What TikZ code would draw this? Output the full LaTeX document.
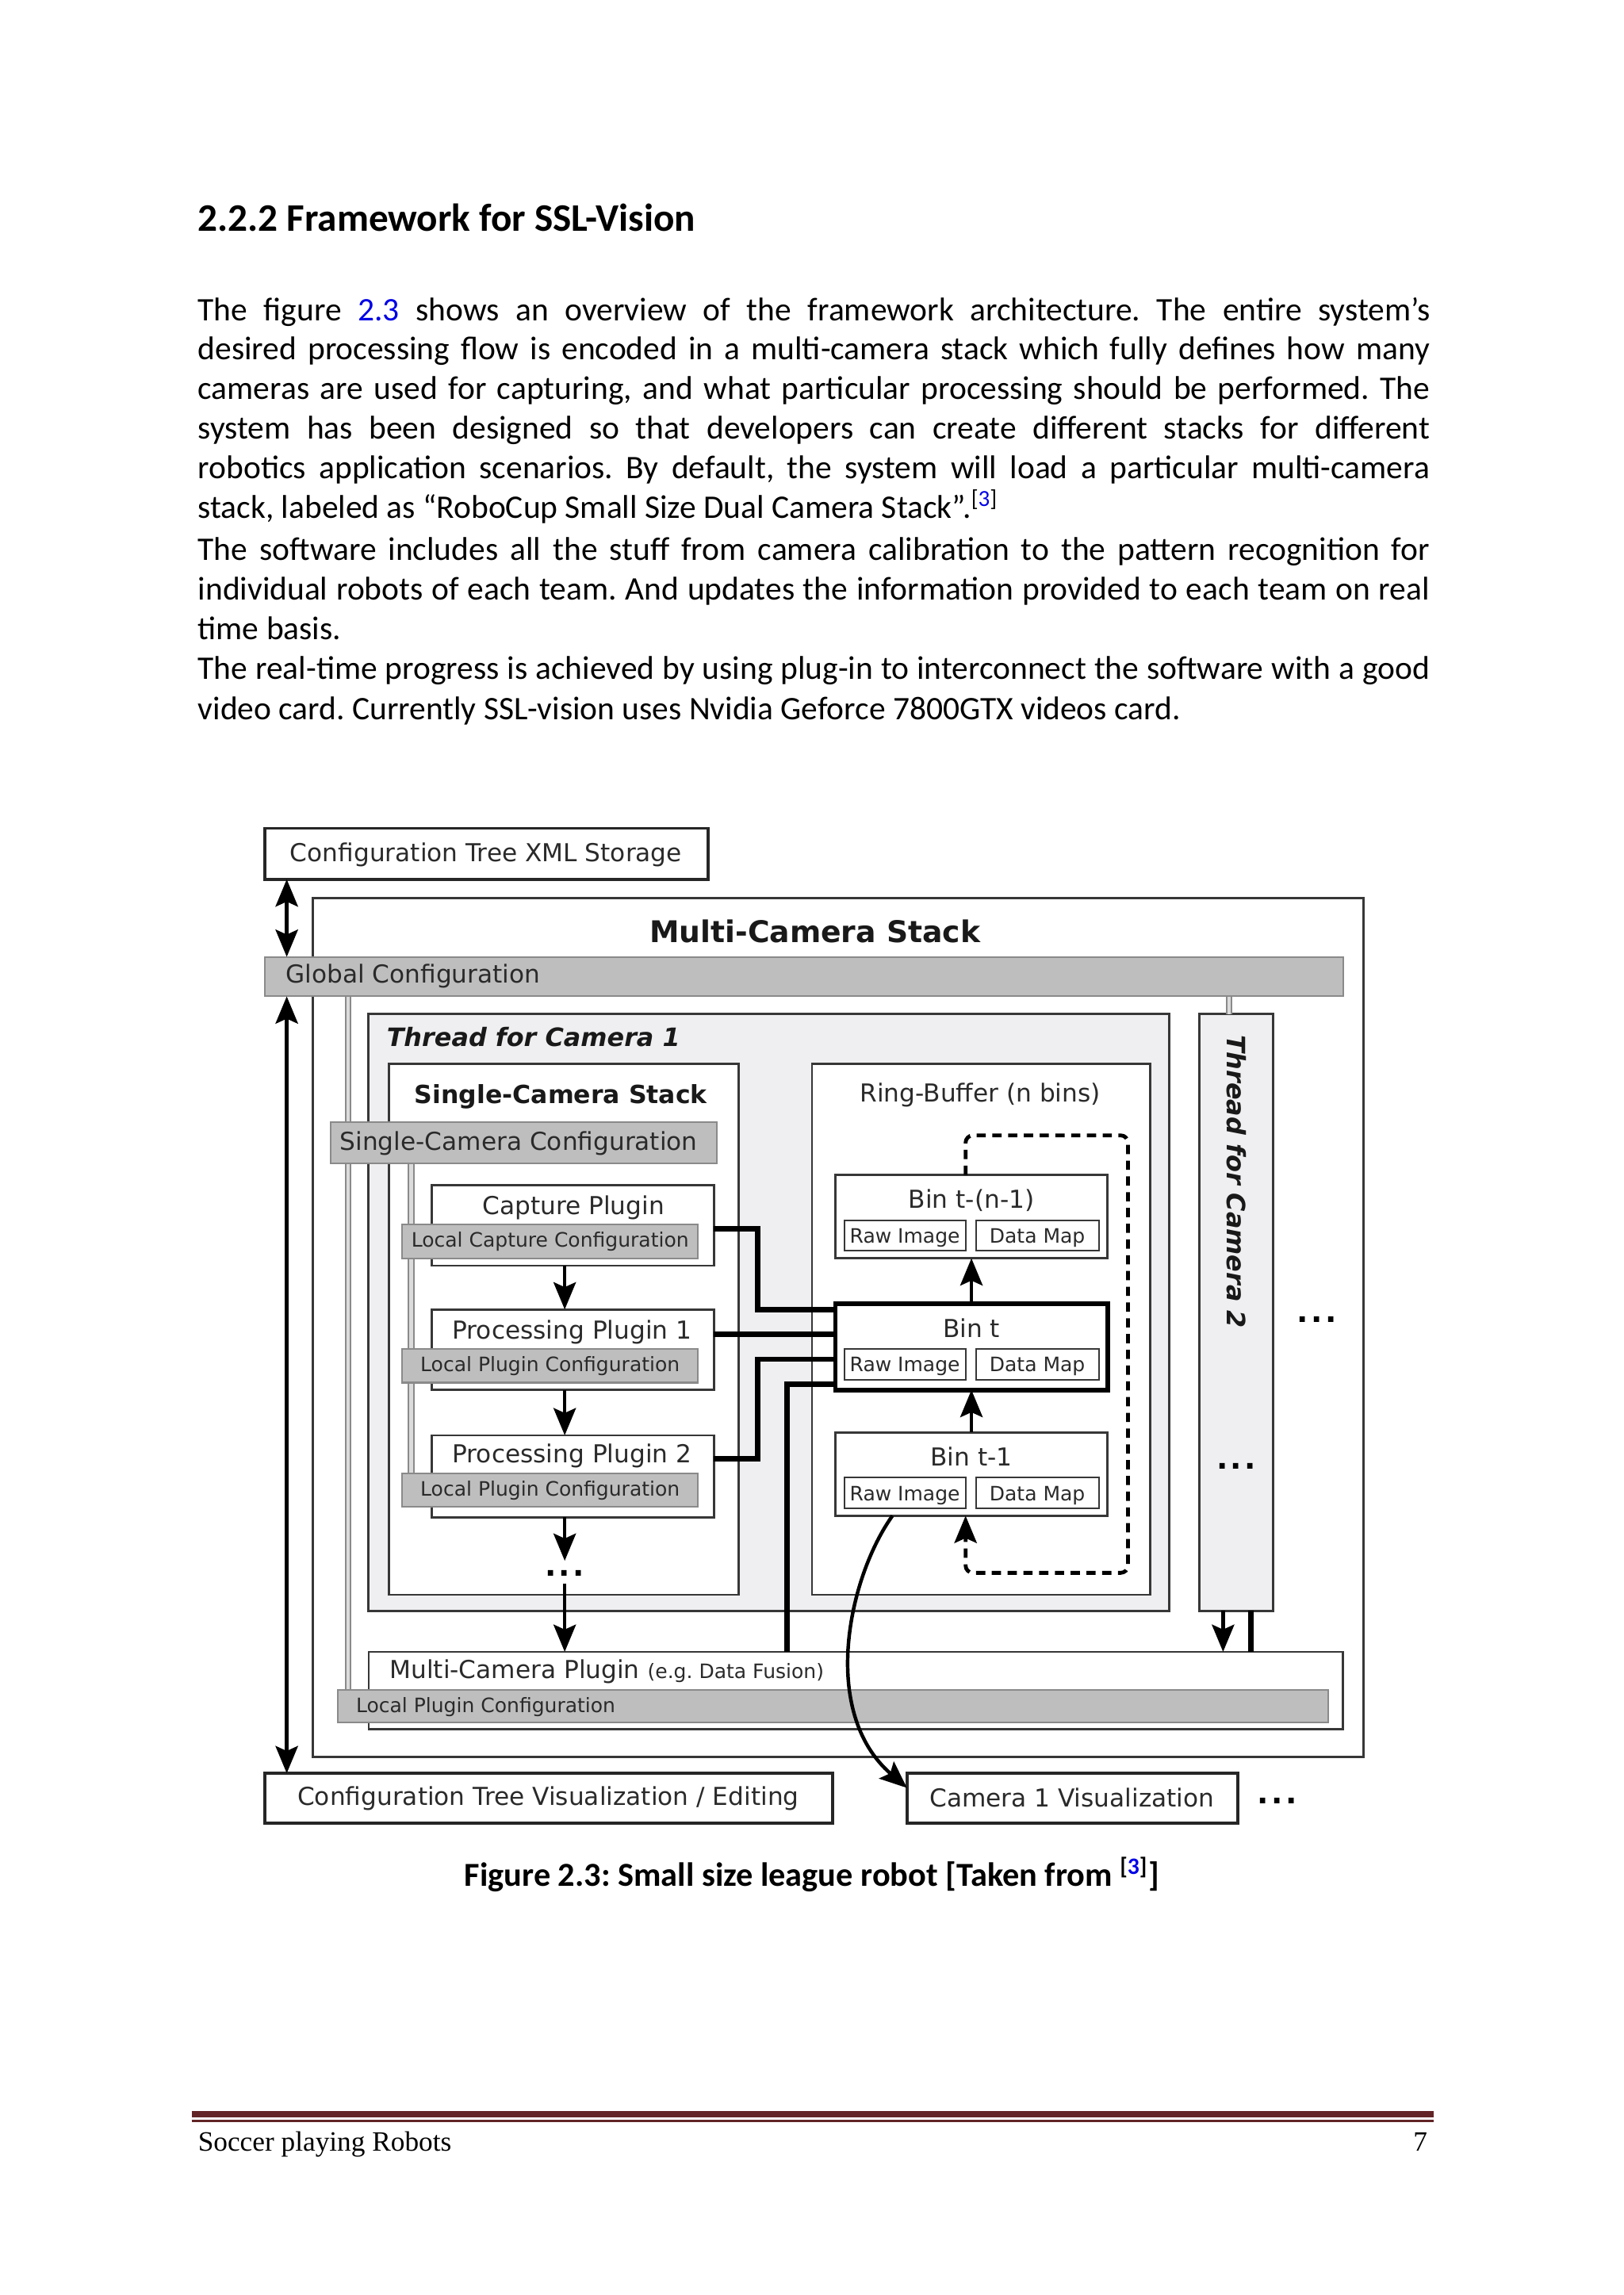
\documentclass[tikz,border=0pt]{standalone}
\usepackage{fontspec}
\setmainfont{Carlito}
\newfontfamily\djv{DejaVu Sans}
\newfontfamily\ftserif{Liberation Serif}
\usetikzlibrary{arrows.meta}
\pgfdeclarelayer{back}
\pgfdeclarelayer{mid}
\pgfsetlayers{back,mid,main}
\newlength\pu
\setlength\pu{0.189189mm}
\definecolor{linkblue}{RGB}{0,0,230}
\definecolor{bc}{RGB}{55,55,55}
\definecolor{gfill}{RGB}{190,190,190}
\definecolor{gdraw}{RGB}{138,138,138}
\definecolor{tfill}{RGB}{239,239,241}
\definecolor{txt}{RGB}{42,42,42}
\definecolor{maroon}{RGB}{98,36,38}
\newcommand\mkbox[6]{\node[#6, anchor=north west, inner sep=0pt, outer sep=0pt, minimum width={(#4-#2)*\pu}, minimum height={(#5-#3)*\pu}] (#1) at (#2,#3) {};}
\newcommand\tdots{.\kern1pt.\kern1pt.}
\tikzset{
 wbox/.style={draw=bc, line width=0.8pt, fill=white},
 obox/.style={draw=black!85, line width=1pt, fill=white},
 gbar/.style={draw=gdraw, line width=0.6pt, fill=gfill},
 thr/.style={draw=bc, line width=0.85pt, fill=tfill},
 sbox/.style={draw=bc, line width=0.6pt, fill=white},
 lbl/.style={font=\djv\fontsize{9.1}{11}\selectfont, text=txt, inner sep=0pt, anchor=base west},
 lblc/.style={lbl, anchor=base},
 sml/.style={font=\djv\fontsize{7.3}{9}\selectfont, text=txt, inner sep=0pt, anchor=base},
 ttl/.style={font=\djv\bfseries\fontsize{9.2}{11}\selectfont, text=black!90, inner sep=0pt, anchor=base west},
 ttli/.style={font=\djv\bfseries\itshape\fontsize{9.3}{11}\selectfont, text=black!90, inner sep=0pt, anchor=base west},
 dotsty/.style={font=\djv\bfseries\fontsize{11}{13}\selectfont, inner sep=0pt, anchor=base},
 tipst/.tip={Stealth[length=10pt,width=8.2pt,inset=1.8pt]},
 arr/.style={draw=black, line width=1.3pt, -tipst},
 darr/.style={draw=black, line width=1.4pt, tipst-tipst},
 thk/.style={draw=black, line width=2pt},
 gline/.style={draw=gdraw, line width=0.55pt, double=gfill!55, double distance=1.3pt},
 dashloop/.style={draw=black, line width=1.4pt, dash pattern=on 3.4pt off 2.4pt, rounded corners=5\pu, -tipst},
 bodyt/.style={anchor=base west, inner sep=0pt, font=\fontsize{12.1}{14.6}\selectfont},
}
\newcommand\jline[3]{\node[bodyt] (#1) at (135,#2) {\makebox[842\pu][s]{#3}};}
\newcommand\rline[3]{\node[bodyt] (#1) at (135,#2) {#3};}
\frenchspacing
\begin{document}
\begin{tikzpicture}[x=0.189189mm,y=-0.189189mm]
\useasboundingbox (0,0) rectangle (1110,1568.6);
\begin{pgfonlayer}{back}
\fill[white] (0,0) rectangle (1110,1568.6);
\end{pgfonlayer}

% heading and body text
\node[anchor=base west, inner sep=0pt, font=\bfseries\fontsize{14.35}{17}\selectfont] (head) at (135,158) {2.2.2 Framework for SSL-Vision};
\jline{t1}{219}{The figure \textcolor{linkblue}{2.3} shows an overview of the framework architecture. The entire system's}
\jline{t2}{246}{desired processing flow is encoded in a multi-camera stack which fully defines how many}
\jline{t3}{273}{cameras are used for capturing, and what particular processing should be performed. The}
\jline{t4}{300}{system has been designed so that developers can create different stacks for different}
\jline{t5}{327}{robotics application scenarios. By default, the system will load a particular multi-camera}
\rline{t6}{354}{stack, labeled as “RoboCup Small Size Dual Camera Stack”.\textsuperscript{[\textcolor{linkblue}{3}]}}
\jline{t7}{383}{The software includes all the stuff from camera calibration to the pattern recognition for}
\jline{t8}{410}{individual robots of each team. And updates the information provided to each team on real}
\rline{t9}{437}{time basis.}
\jline{t10}{464}{The real-time progress is achieved by using plug-in to interconnect the software with a good}
\rline{t11}{492}{video card. Currently SSL-vision uses Nvidia Geforce 7800GTX videos card.}

% ---------- diagram ----------
\coordinate (xA) at (196,0);
\coordinate (xB) at (238,0);
\coordinate (xC) at (840,0);
\coordinate (xD) at (281,0);
\coordinate (xE) at (386,0);
\coordinate (xF) at (836,0);
\coordinate (xG) at (855,0);
\coordinate (xH) at (610,0);
\coordinate (yI) at (0,1222);

\begin{pgfonlayer}{back}
\mkbox{mcs}{214}{614}{932}{1201}{draw=bc, line width=0.8pt, fill=white}
\mkbox{th1}{252}{693}{799}{1101}{thr}
\mkbox{th2}{820}{693}{870}{1101}{thr}
\mkbox{scs}{266}{727}{505}{1090}{wbox}
\mkbox{rb}{555}{727}{786}{1090}{wbox}
\end{pgfonlayer}

\mkbox{xml}{181}{566}{484}{601}{obox}
\mkbox{glob}{181}{654}{918}{681}{gbar}
\mkbox{scc}{226}{767}{490}{795}{gbar}
\mkbox{cap}{295}{810}{488}{865}{wbox}
\mkbox{lcc}{275}{837}{477}{860}{gbar}
\mkbox{pp1}{295}{895}{488}{950}{wbox}
\mkbox{lpc1}{275}{922}{477}{945}{gbar}
\mkbox{pp2}{295}{981}{488}{1037}{wbox}
\mkbox{lpc2}{275}{1007}{477}{1030}{gbar}
\mkbox{bnm}{571}{803}{757}{860}{wbox}
\mkbox{rinm}{577}{834}{660}{855}{sbox}
\mkbox{dmnm}{667}{834}{751}{855}{sbox}
\mkbox{bint}{571}{891}{757}{950}{draw=black, line width=1.7pt, fill=white}
\mkbox{rit}{577}{922}{660}{943}{sbox}
\mkbox{dmt}{667}{922}{751}{943}{sbox}
\mkbox{bt1}{571}{979}{757}{1036}{wbox}
\mkbox{rit1}{577}{1010}{660}{1031}{sbox}
\mkbox{dmt1}{667}{1010}{751}{1031}{sbox}
\mkbox{mcp}{252}{1129}{918}{1182}{wbox}
\mkbox{mlpc}{231}{1155}{908}{1177}{gbar}
\mkbox{cvis}{181}{1212}{569}{1246}{obox}
\mkbox{c1v}{620}{1212}{846}{1246}{obox}

% gray configuration links
\begin{pgfonlayer}{mid}
\draw[gline] (glob.south -| xB) -- (mlpc.north -| xB);
\draw[gline] (glob.south -| xC) -- (th2.north -| xC);
\draw[gline] (scc.south -| xD) -- (lpc2.north -| xD);
\end{pgfonlayer}

% texts
\node[lbl] (xmlt) at (198,589) {Configuration Tree XML Storage};
\node[font=\djv\bfseries\fontsize{11}{13}\selectfont, text=black!90, inner sep=0pt, anchor=base] (mcst) at (557,644) {Multi-Camera Stack};
\node[lbl] (globt) at (195,672) {Global Configuration};
\node[ttli] (th1t) at (264,715) {Thread for Camera 1};
\node[ttl] (scst) at (283,754) {Single-Camera Stack};
\node[lbl] (scct) at (232,786) {Single-Camera Configuration};
\node[lblc] (capt) at (392,830) {Capture Plugin};
\node[sml] (lcct) at (376,852.5) {Local Capture Configuration};
\node[lblc] (pp1t) at (391,915) {Processing Plugin 1};
\node[sml] (lpc1t) at (376,937.5) {Local Plugin Configuration};
\node[lblc] (pp2t) at (391,1000) {Processing Plugin 2};
\node[sml] (lpc2t) at (376,1022.5) {Local Plugin Configuration};
\node[dotsty] (dt1) at (386,1077) {\tdots};
\node[lblc] (rbt) at (670,753) {Ring-Buffer (n bins)};
\node[lblc] (bnmt) at (664,826) {Bin t-(n-1)};
\node[sml] (rinmt) at (618.5,849.5) {Raw Image};
\node[sml] (dmnmt) at (709,849.5) {Data Map};
\node[lblc] (bintt) at (664,914) {Bin t};
\node[sml] (ritt) at (618.5,937.5) {Raw Image};
\node[sml] (dmtt) at (709,937.5) {Data Map};
\node[lblc] (bt1t) at (664,1002) {Bin t-1};
\node[sml] (rit1t) at (618.5,1025.5) {Raw Image};
\node[sml] (dmt1t) at (709,1025.5) {Data Map};
\node[ttli, rotate=-90] (th2t) at (839,707) {Thread for Camera 2};
\node[dotsty] (dt2) at (845,1004) {\tdots};
\node[dotsty] (dt3) at (900,904) {\tdots};
\node[lbl] (mcpt) at (266,1147) {Multi-Camera Plugin {\fontsize{7.3}{9}\selectfont(e.g. Data Fusion)}};
\node[sml, anchor=base west] (mlpct) at (243,1170.5) {Local Plugin Configuration};
\node[lbl] (cvist) at (203,1234) {Configuration Tree Visualization / Editing};
\node[lbl] (c1vt) at (635,1235) {Camera 1 Visualization};
\node[dotsty] (dt4) at (873,1233) {\tdots};

% configuration arrows
\draw[darr] (xml.south -| xA) -- (glob.north -| xA);
\draw[darr] (glob.south -| xA) -- (cvis.north -| xA);

% plugin chain
\draw[arr] (cap.south -| xE) -- (pp1.north -| xE);
\draw[arr] (pp1.south -| xE) -- (pp2.north -| xE);
\draw[arr, shorten >=6\pu] (pp2.south -| xE) -- (dt1.north);
\draw[arr, shorten <=5\pu] (dt1.south) -- (mcp.north -| xE);

% data links into Bin t
\coordinate (j1) at (518,840);
\coordinate (j3) at (518,997);
\coordinate (j4) at (538,0);
\coordinate (k1) at (0,895);
\coordinate (k2) at (0,912);
\coordinate (k3) at (0,929);
\coordinate (k4) at (0,946);
\draw[thk] (cap.east |- j1) -- (j1) |- (bint.west |- k1);
\draw[thk] (pp1.east |- k2) -- (bint.west |- k2);
\draw[thk] (pp2.east |- j3) -- (j3) |- (bint.west |- k3);
\draw[thk] (mcp.north -| j4) |- (bint.west |- k4);

% ring buffer
\draw[arr] (bint.north) -- (bnm.south);
\draw[arr] (bt1.north) -- (bint.south);
\coordinate (dTL) at (660,776);
\coordinate (dBR) at (771,1075);
\draw[dashloop] (bnm.north -| dTL) -- (dTL) -- (dTL -| dBR) -- (dBR) -- (dBR -| dTL) -- (bt1.south -| dTL);

% camera 2 links
\draw[arr] (th2.south -| xF) -- (mcp.north -| xF);
\draw[thk] (th2.south -| xG) -- (mcp.north -| xG);

% visualization
\draw[arr] (bt1.south -| xH) .. controls (580,1078) and (560,1170) .. (c1v.west |- yI);

% caption
\node[anchor=base, inner sep=0pt, font=\bfseries\fontsize{12.35}{14.6}\selectfont] (cap23) at (555,1289) {Figure 2.3: Small size league robot [Taken from \textsuperscript{[\textcolor{linkblue}{3}]}]};

% footer
\draw[maroon, line width=4\pu] (131,1445) -- (980,1445);
\draw[maroon, line width=1.4\pu] (131,1449.6) -- (980,1449.6);
\node[anchor=base west, inner sep=0pt, font=\ftserif\fontsize{10.3}{12}\selectfont] (foot) at (135,1470) {Soccer playing Robots};
\node[anchor=base east, inner sep=0pt, font=\ftserif\fontsize{10.3}{12}\selectfont] (pnum) at (976,1470) {7};
\end{tikzpicture}
\end{document}
